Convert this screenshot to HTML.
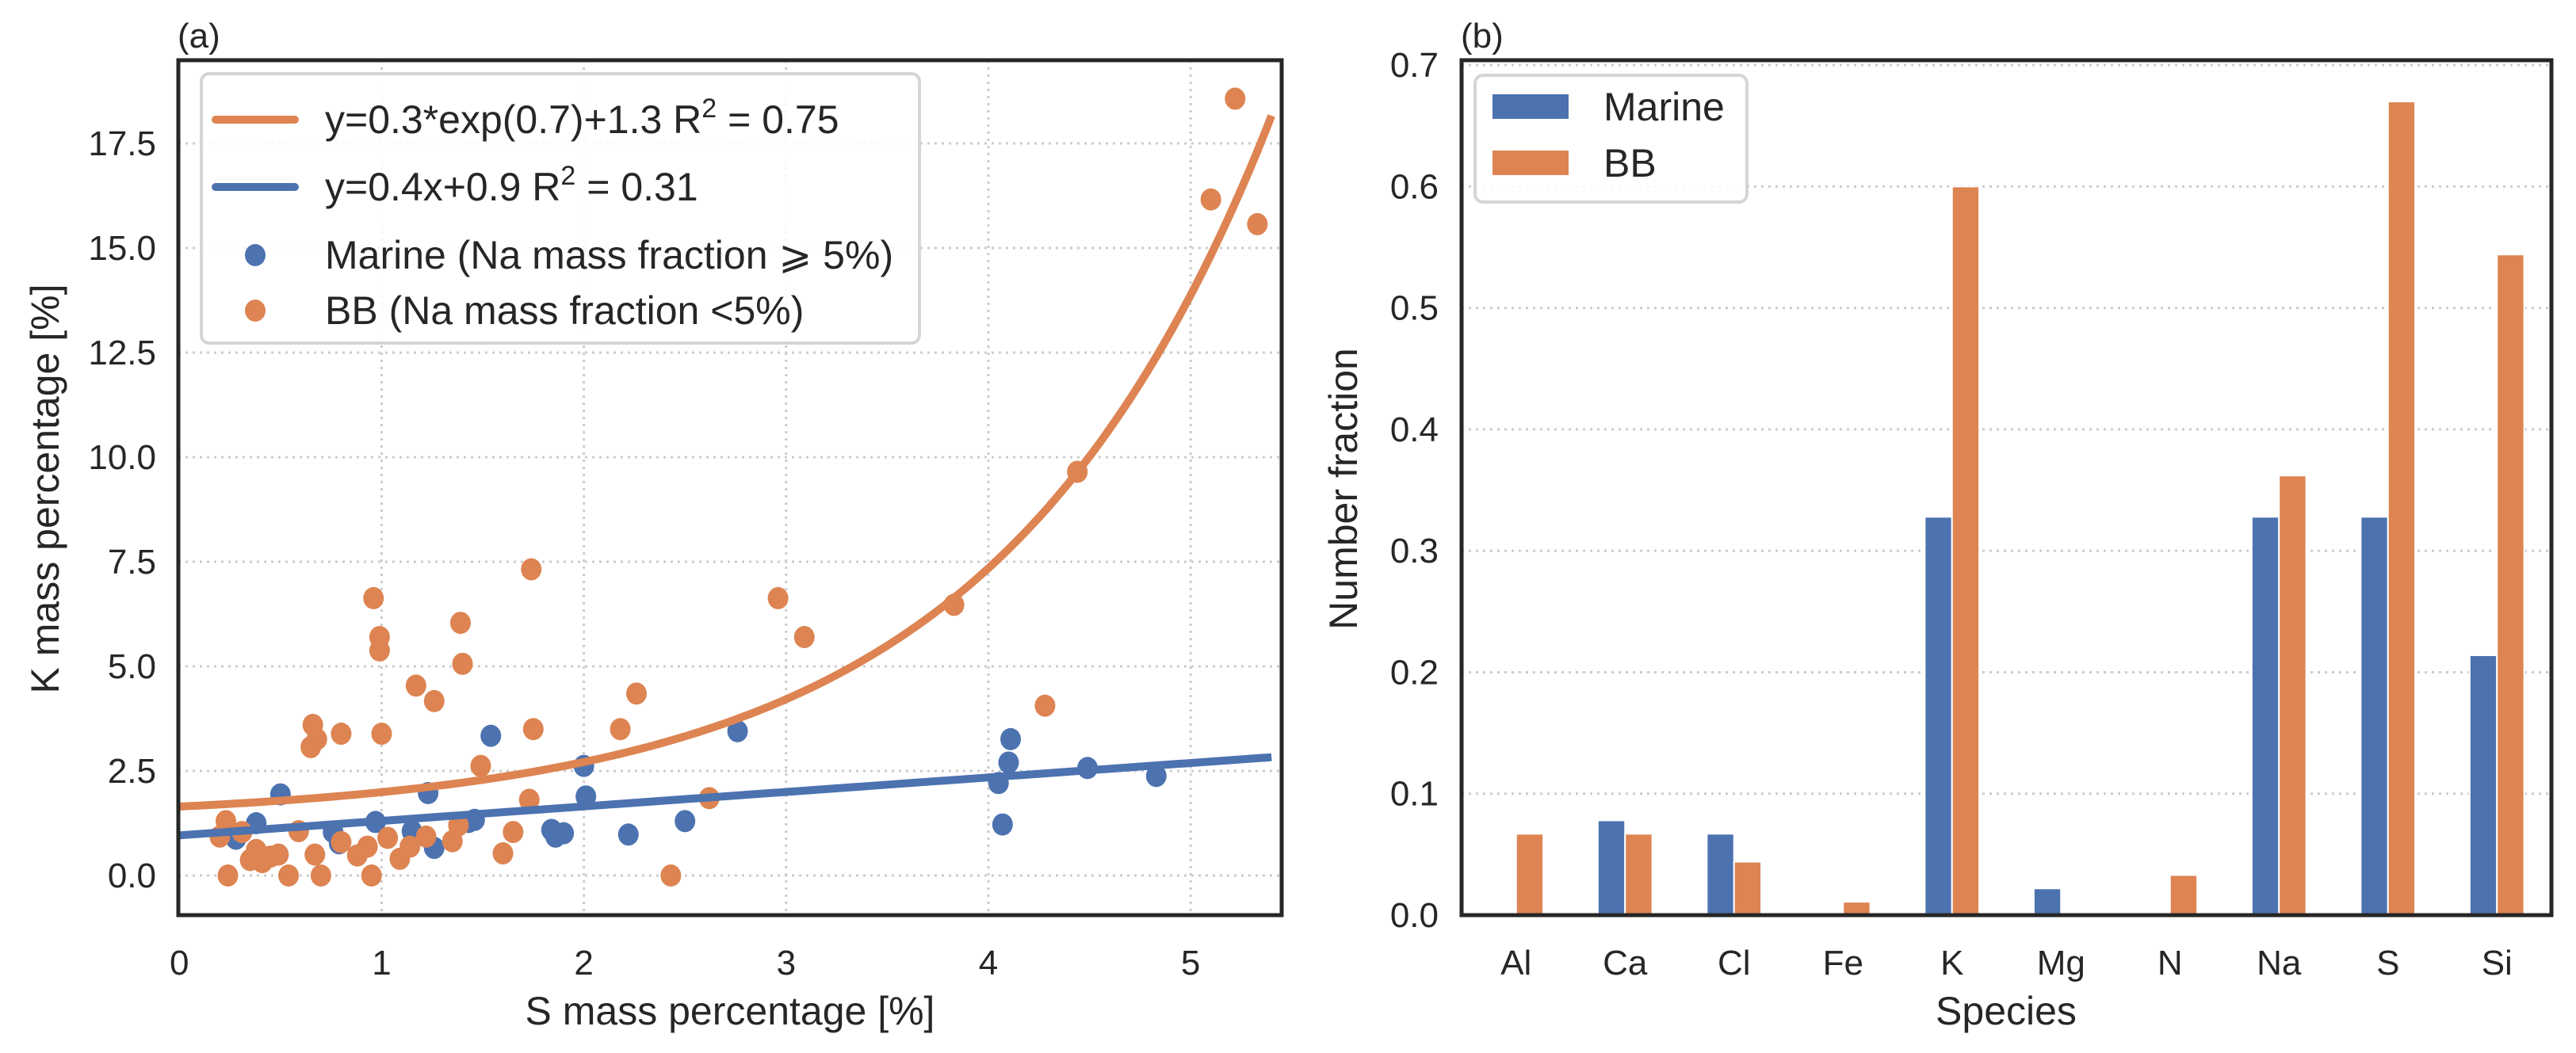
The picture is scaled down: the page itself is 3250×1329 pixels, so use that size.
<!DOCTYPE html>
<html><head><meta charset="utf-8"><style>
html,body{margin:0;padding:0;background:#fff;}
svg{display:block;font-family:"Liberation Sans",sans-serif;}
</style></head><body>
<svg id="fig" width="3250" height="1329" viewBox="0 0 3250 1329" xmlns="http://www.w3.org/2000/svg">
<g id="pa"></g>
<g id="pb"></g>
</svg>
<script>
// ---- Panel (a) data ----
const bbX = [0.24,0.23,0.2,0.31,0.35,0.38,0.41,0.45,0.49,0.54,0.59,0.67,0.7,0.66,0.68,0.65,0.8,0.8,0.88,0.93,0.95,0.96,0.99,0.99,1.0,1.03,1.09,1.14,1.17,1.22,1.26,1.35,1.38,1.39,1.4,1.49,1.6,1.65,1.73,1.74,1.75,2.18,2.26,2.43,2.62,2.96,3.09,3.83,4.28,4.44,5.1,5.22,5.33];
const bbY = [0,1.3,0.93,1.04,0.37,0.61,0.32,0.45,0.5,0,1.06,0.5,0,3.6,3.26,3.07,3.39,0.8,0.48,0.69,0,6.63,5.7,5.38,3.39,0.9,0.4,0.69,4.54,0.93,4.17,0.82,1.2,6.04,5.06,2.62,0.53,1.04,1.81,7.32,3.5,3.5,4.35,0,1.85,6.63,5.7,6.47,4.06,9.65,16.16,18.57,15.57];
const marX = [0.28,0.38,0.5,0.76,0.79,0.97,1.15,1.23,1.26,1.43,1.46,1.54,1.84,1.86,1.9,2.0,2.01,2.22,2.5,2.76,4.05,4.07,4.1,4.11,4.49,4.83];
const marY = [0.88,1.25,1.94,1.04,0.77,1.28,1.06,1.97,0.66,1.28,1.33,3.34,1.09,0.93,1.01,2.62,1.89,0.98,1.3,3.45,2.21,1.22,2.7,3.26,2.57,2.38];
const expFit = [0.318, 0.735, 1.33]; // a, b, c
const linFit = [0.346, 0.96];        // slope, intercept
const aXTicks = [0,1,2,3,4,5];
const aYTicks = [0,2.5,5,7.5,10,12.5,15,17.5];
const aYTickLabels = ["0.0","2.5","5.0","7.5","10.0","12.5","15.0","17.5"];
// ---- Panel (b) data ----
const species = ["Al","Ca","Cl","Fe","K","Mg","N","Na","S","Si"];
const marineFrac = [0,0.078,0.067,0,0.328,0.022,0,0.328,0.328,0.214];
const bbFrac = [0.067,0.067,0.044,0.011,0.6,0,0.033,0.362,0.67,0.544];
const bYTicks = [0,0.1,0.2,0.3,0.4,0.5,0.6,0.7];
const bYTickLabels = ["0.0","0.1","0.2","0.3","0.4","0.5","0.6","0.7"];

const NS="http://www.w3.org/2000/svg";
const BLUE="#4c72b0", ORANGE="#dd8452", INK="#262626", GRID="#cccccc";
const TICK=44, TITLE=50, LEG=50;
function mk(parent,tag,attrs,text){const e=document.createElementNS(NS,tag);for(const k in attrs)e.setAttribute(k,attrs[k]);if(text!==undefined)e.textContent=text;parent.appendChild(e);return e;}

// ===== Panel (a) =====
const A={l:225,r:1617,t:76,b:1155,xmin:-0.005,xmax:5.45};
const ax=v=>A.l+(v-A.xmin)/(A.xmax-A.xmin)*(A.r-A.l);
const ay=v=>1105-v*52.8;
const pa=document.getElementById('pa');
aXTicks.forEach(t=>{
  if(t>0){const g=mk(pa,'line',{x1:ax(t),x2:ax(t),y1:A.t,y2:A.b,stroke:GRID,'stroke-width':3,'stroke-dasharray':'3 6'});
  
  }
  const tl=mk(pa,'text',{x:ax(t),y:1230,'font-size':TICK,fill:INK,'text-anchor':'middle'},String(t));
  
  
});
aYTicks.forEach((t,i)=>{
  const g=mk(pa,'line',{x1:A.l,x2:A.r,y1:ay(t),y2:ay(t),stroke:GRID,'stroke-width':3,'stroke-dasharray':'3 6'});
  
  
  const tl=mk(pa,'text',{x:197,y:ay(t)+15,'font-size':TICK,fill:INK,'text-anchor':'end'},aYTickLabels[i]);
  
  
});
function dots(xs,ys,col,name){xs.forEach((x,i)=>{const c=mk(pa,'ellipse',{cx:ax(x),cy:ay(ys[i]),rx:13,ry:14,fill:col});
  
  });}
dots(marX,marY,BLUE,'marine-point');
dots(bbX,bbY,ORANGE,'bb-point');
let pe="",pl="";
for(let i=0;i<=200;i++){const x=5.4*i/200;const ye=expFit[0]*Math.exp(expFit[1]*x)+expFit[2];const yl=linFit[0]*x+linFit[1];
  pe+=(i?"L":"M")+ax(x).toFixed(1)+","+ay(ye).toFixed(1);pl+=(i?"L":"M")+ax(x).toFixed(1)+","+ay(yl).toFixed(1);}
const fe=mk(pa,'path',{d:pe,fill:'none',stroke:ORANGE,'stroke-width':10});


const fl=mk(pa,'path',{d:pl,fill:'none',stroke:BLUE,'stroke-width':10});


const sa=mk(pa,'rect',{x:A.l,y:A.t,width:A.r-A.l,height:A.b-A.t,fill:'none',stroke:INK,'stroke-width':5});


const la=mk(pa,'text',{x:224,y:60,'font-size':44,fill:INK},'(a)');


const xl=mk(pa,'text',{x:921,y:1293,'font-size':TITLE,fill:INK,'text-anchor':'middle'},'S mass percentage [%]');


const yl=mk(pa,'text',{x:0,y:0,'font-size':TITLE,fill:INK,'text-anchor':'middle',transform:'translate(74,617) rotate(-90)'},'K mass percentage [%]');


// legend a
const lg=mk(pa,'g',{});


mk(lg,'rect',{x:254,y:93,width:906,height:340,rx:10,fill:'#fff','fill-opacity':0.85,stroke:'#d5d5d5','stroke-width':4});
mk(lg,'line',{x1:272,x2:372,y1:151,y2:151,stroke:ORANGE,'stroke-width':10,'stroke-linecap':'round'});
const t1=mk(lg,'text',{x:410,y:168,'font-size':LEG,fill:INK});
t1.innerHTML='y=0.3*exp(0.7)+1.3 R<tspan dy="-20" font-size="34">2</tspan><tspan dy="20"> = 0.75</tspan>';


mk(lg,'line',{x1:272,x2:372,y1:236,y2:236,stroke:BLUE,'stroke-width':10,'stroke-linecap':'round'});
const t2=mk(lg,'text',{x:410,y:253,'font-size':LEG,fill:INK});
t2.innerHTML='y=0.4x+0.9 R<tspan dy="-20" font-size="34">2</tspan><tspan dy="20"> = 0.31</tspan>';


mk(lg,'ellipse',{cx:322,cy:322,rx:13,ry:14,fill:BLUE});
const t3=mk(lg,'text',{x:410,y:339,'font-size':LEG,fill:INK},'Marine (Na mass fraction  ⩾ 5%)');


mk(lg,'ellipse',{cx:322,cy:392,rx:13,ry:14,fill:ORANGE});
const t4=mk(lg,'text',{x:410,y:409,'font-size':LEG,fill:INK},'BB (Na mass fraction <5%)');



// ===== Panel (b) =====
const B={l:1844,r:3219,t:76,b:1155,ymax:0.704};
const by=v=>B.b-v/B.ymax*(B.b-B.t);
const cw=(B.r-B.l)/species.length;
const bx=i=>B.l+cw*(i+0.5);
const pb=document.getElementById('pb');
bYTicks.forEach((t,i)=>{
  if(t>0){const g=mk(pb,'line',{x1:B.l,x2:B.r,y1:by(t),y2:by(t),stroke:GRID,'stroke-width':3,'stroke-dasharray':'3 6'});
  
  }
  const tl=mk(pb,'text',{x:1815,y:by(t)+15,'font-size':TICK,fill:INK,'text-anchor':'end'},bYTickLabels[i]);
  
  
});
const bw=cw*0.25;
species.forEach((s,i)=>{
  const m=mk(pb,'rect',{x:bx(i)-bw,y:by(marineFrac[i]),width:bw,height:B.b-by(marineFrac[i]),fill:BLUE,stroke:'#fff','stroke-width':2});
  
  
  const o=mk(pb,'rect',{x:bx(i),y:by(bbFrac[i]),width:bw,height:B.b-by(bbFrac[i]),fill:ORANGE,stroke:'#fff','stroke-width':2});
  
  
  const tl=mk(pb,'text',{x:bx(i),y:1230,'font-size':TICK,fill:INK,'text-anchor':'middle'},s);
  
  
});
const sb=mk(pb,'rect',{x:B.l,y:B.t,width:B.r-B.l,height:B.b-B.t,fill:'none',stroke:INK,'stroke-width':5});


const lb=mk(pb,'text',{x:1843,y:60,'font-size':44,fill:INK},'(b)');


const xlb=mk(pb,'text',{x:2531,y:1293,'font-size':TITLE,fill:INK,'text-anchor':'middle'},'Species');


const ylb=mk(pb,'text',{x:0,y:0,'font-size':TITLE,fill:INK,'text-anchor':'middle',transform:'translate(1712,617) rotate(-90)'},'Number fraction');


const lgb=mk(pb,'g',{});


mk(lgb,'rect',{x:1861,y:95,width:343,height:160,rx:10,fill:'#fff','fill-opacity':0.85,stroke:'#d5d5d5','stroke-width':4});
mk(lgb,'rect',{x:1883,y:119,width:96,height:31,fill:BLUE});
const lm=mk(lgb,'text',{x:2023,y:152,'font-size':LEG,fill:INK},'Marine');


mk(lgb,'rect',{x:1883,y:190,width:96,height:31,fill:ORANGE});
const lbb=mk(lgb,'text',{x:2023,y:223,'font-size':LEG,fill:INK},'BB');


</script>
</body></html>
